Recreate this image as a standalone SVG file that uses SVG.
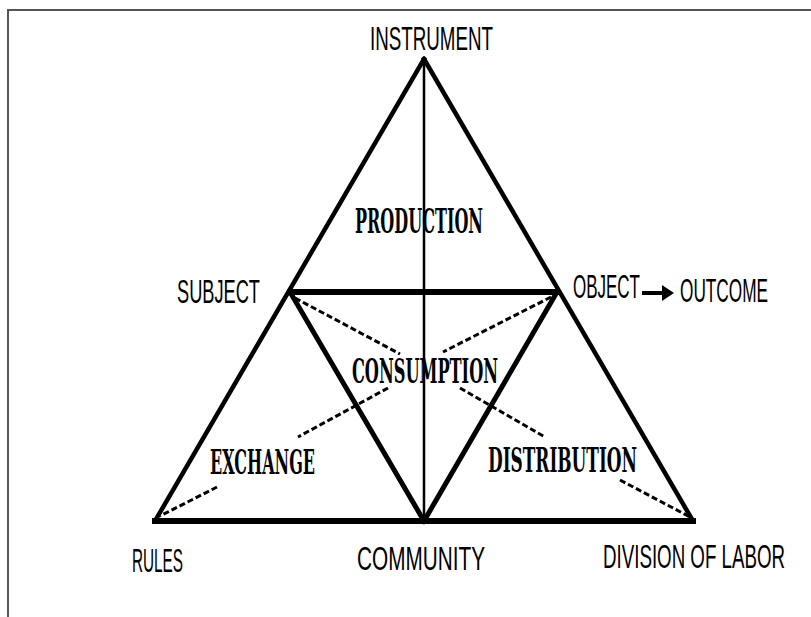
<svg xmlns="http://www.w3.org/2000/svg" width="811" height="617" viewBox="0 0 811 617">
<style>
.frame{stroke:#555;stroke-width:2;fill:none}
.ln{stroke:#000;fill:none;stroke-linecap:square}
.dash{stroke:#000;stroke-width:3;stroke-dasharray:6 3;fill:none}
.lbl{font-family:"Liberation Sans",Arial,sans-serif;font-size:34px;fill:#000}
.act{font-family:"DejaVu Serif","Liberation Serif",serif;font-size:33px;font-weight:bold;fill:#000}
</style>
<defs>
<marker id="ah" markerWidth="3" markerHeight="4" refX="1" refY="2" orient="auto" markerUnits="strokeWidth">
<path d="M0,0 L3,2 L0,4 Z" fill="#000"/>
</marker>
</defs>
<rect width="811" height="617" fill="#fff"/>
<path class="frame" d="M8,617 L8,10 L811,10"/>
<g id="connectors">
<line class="ln" x1="424" y1="59" x2="155" y2="521" stroke-width="4.5"/>
<line class="ln" x1="424" y1="59" x2="693" y2="521" stroke-width="4.5"/>
<line class="ln" x1="155" y1="521" x2="693" y2="521" stroke-width="6"/>
<line class="ln" x1="424" y1="59" x2="424" y2="521" stroke-width="2.5"/>
<line class="ln" x1="290" y1="292" x2="557" y2="292" stroke-width="6"/>
<line class="ln" x1="290" y1="292" x2="424" y2="521" stroke-width="5"/>
<line class="ln" x1="557" y1="292" x2="424" y2="521" stroke-width="5"/>
<line class="dash" x1="295" y1="298" x2="400" y2="354"/>
<line class="dash" x1="551" y1="297" x2="443" y2="352"/>
<line class="dash" x1="388" y1="388" x2="298" y2="437"/>
<line class="dash" x1="460" y1="388" x2="545" y2="437"/>
<line class="dash" x1="217" y1="487" x2="160" y2="516"/>
<line class="dash" x1="620" y1="480" x2="690" y2="517"/>
<line class="ln" x1="642" y1="293" x2="666" y2="293" stroke-width="4" marker-end="url(#ah)" style="stroke-linecap:butt"/>
</g>
<g id="instrument"><text class="lbl" x="370" y="50" textLength="123" lengthAdjust="spacingAndGlyphs">INSTRUMENT</text></g>
<g id="subject"><text class="lbl" x="177" y="303" textLength="83" lengthAdjust="spacingAndGlyphs">SUBJECT</text></g>
<g id="object"><text class="lbl" x="573" y="298" textLength="67" lengthAdjust="spacingAndGlyphs">OBJECT</text></g>
<g id="outcome"><text class="lbl" x="680" y="302" textLength="88" lengthAdjust="spacingAndGlyphs">OUTCOME</text></g>
<g id="rules"><text class="lbl" x="132" y="572" textLength="51" lengthAdjust="spacingAndGlyphs">RULES</text></g>
<g id="community"><text class="lbl" x="357" y="570" textLength="128" lengthAdjust="spacingAndGlyphs">COMMUNITY</text></g>
<g id="division"><text class="lbl" x="603" y="568" textLength="182" lengthAdjust="spacingAndGlyphs">DIVISION OF LABOR</text></g>
<g id="production"><text class="act" x="355" y="233" textLength="128" lengthAdjust="spacingAndGlyphs">PRODUCTION</text></g>
<g id="consumption"><text class="act" x="352" y="383" textLength="146" lengthAdjust="spacingAndGlyphs">CONSUMPTION</text></g>
<g id="exchange"><text class="act" x="210" y="474" textLength="105" lengthAdjust="spacingAndGlyphs">EXCHANGE</text></g>
<g id="distribution"><text class="act" x="488" y="472" textLength="149" lengthAdjust="spacingAndGlyphs">DISTRIBUTION</text></g>
</svg>
